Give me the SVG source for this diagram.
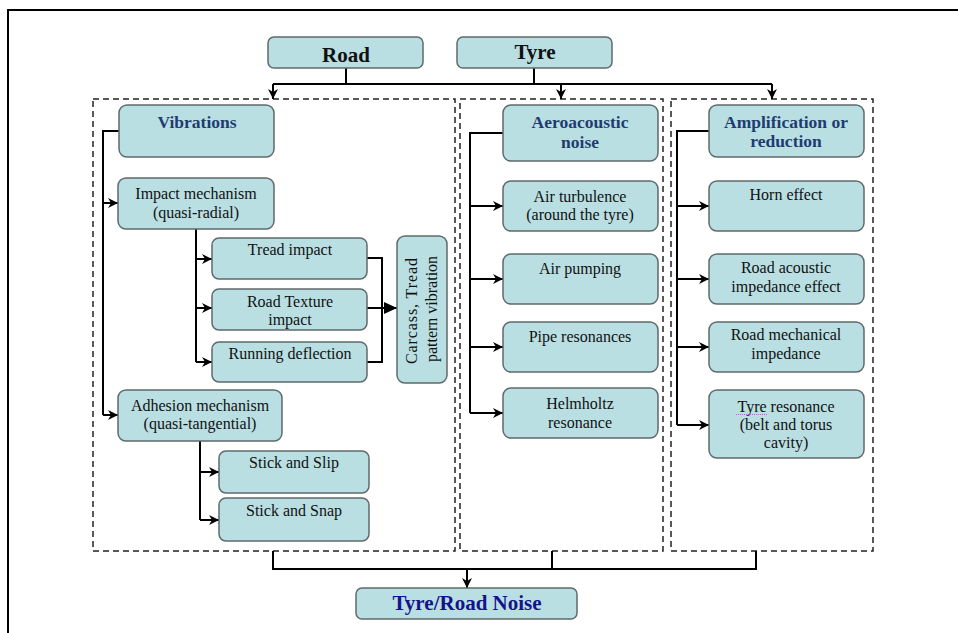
<svg xmlns="http://www.w3.org/2000/svg" width="958" height="633" viewBox="0 0 958 633">
<style>
.box{fill:#B9DFE3;stroke:#5F6A6C;stroke-width:1.5}
.dash{fill:none;stroke:#222;stroke-width:1.5;stroke-dasharray:6,4}
.ln{fill:none;stroke:#000;stroke-width:2}
.t{font-family:"Liberation Serif","Times New Roman",serif;font-size:16px;fill:#111;text-anchor:middle}
.h{font-family:"Liberation Serif","Times New Roman",serif;font-size:17.5px;font-weight:bold;fill:#1F3C70;text-anchor:middle}
.big{font-family:"Liberation Serif","Times New Roman",serif;font-size:21px;font-weight:bold;fill:#111;text-anchor:middle}
</style>
<defs>
<marker id="ar" markerUnits="userSpaceOnUse" markerWidth="12" markerHeight="10" refX="10" refY="5" orient="auto">
<path d="M0,0 L10,5 L0,10 L3,5 z" fill="#000"/>
</marker>
<marker id="tri" markerUnits="userSpaceOnUse" markerWidth="14" markerHeight="12" refX="13" refY="6" orient="auto">
<path d="M0,0 L13,6 L0,12 z" fill="#000"/>
</marker>
</defs>
<rect x="8" y="10" width="970" height="650" fill="none" stroke="#000" stroke-width="2"/>
<g id="groups">
<rect class="dash" x="93" y="99" width="362" height="452"/>
<rect class="dash" x="460" y="99" width="203" height="452"/>
<rect class="dash" x="671" y="99" width="202" height="452"/>
</g>
<g id="connectors">
<path class="ln" d="M346,68 V84 M534,68 V84 M273,84 H772"/>
<path class="ln" d="M273,84 V99" marker-end="url(#ar)"/>
<path class="ln" d="M561,84 V99" marker-end="url(#ar)"/>
<path class="ln" d="M772,84 V99" marker-end="url(#ar)"/>
<path class="ln" d="M119,131 H103 V415"/>
<path class="ln" d="M103,203 H118" marker-end="url(#ar)"/>
<path class="ln" d="M103,415 H118" marker-end="url(#ar)"/>
<path class="ln" d="M196,229 V362"/>
<path class="ln" d="M196,259 H212" marker-end="url(#ar)"/>
<path class="ln" d="M196,308 H212" marker-end="url(#ar)"/>
<path class="ln" d="M196,362 H212" marker-end="url(#ar)"/>
<path class="ln" d="M367,258 H382 V362 H367"/>
<path class="ln" d="M367,308 H397" marker-end="url(#tri)"/>
<path class="ln" d="M200,441 V520"/>
<path class="ln" d="M200,472 H219" marker-end="url(#ar)"/>
<path class="ln" d="M200,520 H219" marker-end="url(#ar)"/>
<path class="ln" d="M503,133 H470 V413"/>
<path class="ln" d="M470,206 H503" marker-end="url(#ar)"/>
<path class="ln" d="M470,279 H503" marker-end="url(#ar)"/>
<path class="ln" d="M470,347 H503" marker-end="url(#ar)"/>
<path class="ln" d="M470,413 H503" marker-end="url(#ar)"/>
<path class="ln" d="M709,131 H677 V425"/>
<path class="ln" d="M677,206 H709" marker-end="url(#ar)"/>
<path class="ln" d="M677,279 H709" marker-end="url(#ar)"/>
<path class="ln" d="M677,347 H709" marker-end="url(#ar)"/>
<path class="ln" d="M677,425 H709" marker-end="url(#ar)"/>
<path class="ln" d="M273,551 V569 H756 V551 M552,551 V569"/>
<path class="ln" d="M467,569 V588" marker-end="url(#ar)"/>
</g>
<g id="road"><rect class="box" x="268" y="37" width="155" height="31" rx="6"/><text class="big" x="346" y="62">Road</text></g>
<g id="tyre"><rect class="box" x="457" y="37" width="155" height="31" rx="6"/><text class="big" x="535" y="59">Tyre</text></g>
<g id="vibrations"><rect class="box" x="119" y="105" width="155" height="52" rx="8"/><text class="h" x="197" y="128">Vibrations</text></g>
<g id="impact"><rect class="box" x="118" y="178" width="156" height="51" rx="8"/><text class="t" x="196" y="199">Impact mechanism</text><text class="t" x="196" y="218">(quasi-radial)</text></g>
<g id="tread"><rect class="box" x="212" y="238" width="155" height="41" rx="7"/><text class="t" x="290" y="255">Tread impact</text></g>
<g id="texture"><rect class="box" x="212" y="289" width="155" height="41" rx="7"/><text class="t" x="290" y="307">Road Texture</text><text class="t" x="290" y="325">impact</text></g>
<g id="running"><rect class="box" x="212" y="342" width="155" height="40" rx="7"/><text class="t" x="290" y="359">Running deflection</text></g>
<g id="carcass"><rect class="box" x="397" y="236" width="50" height="147" rx="8"/><text class="t" transform="translate(417,311) rotate(-90)" textLength="106" lengthAdjust="spacing">Carcass,  Tread</text><text class="t" transform="translate(437,309) rotate(-90)">pattern vibration</text></g>
<g id="adhesion"><rect class="box" x="118" y="390" width="164" height="51" rx="8"/><text class="t" x="200" y="411">Adhesion mechanism</text><text class="t" x="200" y="429">(quasi-tangential)</text></g>
<g id="slip"><rect class="box" x="219" y="451" width="150" height="42" rx="7"/><text class="t" x="294" y="468">Stick and Slip</text></g>
<g id="snap"><rect class="box" x="219" y="498" width="150" height="43" rx="7"/><text class="t" x="294" y="516">Stick and Snap</text></g>
<g id="aero"><rect class="box" x="503" y="105" width="155" height="56" rx="8"/><text class="h" x="580" y="128">Aeroacoustic</text><text class="h" x="580" y="148">noise</text></g>
<g id="turbulence"><rect class="box" x="503" y="181" width="155" height="50" rx="8"/><text class="t" x="580" y="202">Air turbulence</text><text class="t" x="580" y="220">(around the tyre)</text></g>
<g id="pumping"><rect class="box" x="503" y="254" width="155" height="50" rx="8"/><text class="t" x="580" y="274">Air pumping</text></g>
<g id="pipe"><rect class="box" x="503" y="322" width="155" height="50" rx="8"/><text class="t" x="580" y="342">Pipe resonances</text></g>
<g id="helmholtz"><rect class="box" x="503" y="388" width="155" height="50" rx="8"/><text class="t" x="580" y="409">Helmholtz</text><text class="t" x="580" y="428">resonance</text></g>
<g id="amp"><rect class="box" x="709" y="105" width="155" height="52" rx="8"/><text class="h" x="786" y="128">Amplification or</text><text class="h" x="786" y="147">reduction</text></g>
<g id="horn"><rect class="box" x="709" y="181" width="155" height="50" rx="8"/><text class="t" x="786" y="200">Horn effect</text></g>
<g id="acoustic"><rect class="box" x="709" y="254" width="155" height="50" rx="8"/><text class="t" x="786" y="273">Road acoustic</text><text class="t" x="786" y="292">impedance effect</text></g>
<g id="mechanical"><rect class="box" x="709" y="322" width="155" height="50" rx="8"/><text class="t" x="786" y="340">Road mechanical</text><text class="t" x="786" y="359">impedance</text></g>
<g id="tyreres"><rect class="box" x="709" y="390" width="155" height="68" rx="8"/><text class="t" x="786" y="412">Tyre resonance</text><text class="t" x="786" y="430">(belt and torus</text><text class="t" x="786" y="448">cavity)</text><path d="M736,414.5 H767" stroke="#C060D0" stroke-width="1" stroke-dasharray="1,1"/></g>
<g id="noise"><rect class="box" x="356" y="588" width="221" height="31" rx="6"/><text class="big" x="467" y="610" fill="#14148A" style="fill:#14148A">Tyre/Road Noise</text></g>
</svg>
